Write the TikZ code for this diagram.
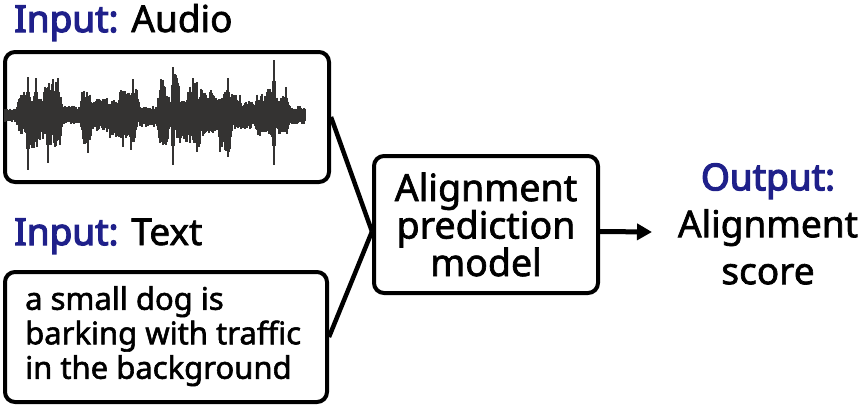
\documentclass[tikz,border=0pt]{standalone}
\usepackage{fontspec}
\setmainfont{Noto Sans}[FakeBold=1.8]
\newfontfamily\heavyfont{Noto Sans}[FakeBold=3.4]
\usetikzlibrary{arrows.meta,calc}
\definecolor{inblue}{RGB}{31,32,138}
\definecolor{wavegray}{RGB}{52,51,50}
\newcommand{\inlbl}[1]{\textcolor{inblue}{\heavyfont #1}}
\tikzset{
  box/.style={draw=black, line width=4pt, rounded corners=10pt, inner sep=0pt, fill=white},
  conn/.style={line width=4.5pt},
  bigtext/.style={font=\fontsize{37}{37}\selectfont},
  declare function={
    tri(\t,\c,\a)=max(0,\a*(1-abs(\t-\c)/2.6));
    trap(\t,\a,\b,\h)=\h*max(0,min(1,(\t-\a)/4+1,(\b-\t)/4+1));
  }
}
\begin{document}
\begin{tikzpicture}[x=1pt,y=-1pt]
\useasboundingbox (0,0) rectangle (863,418);
% labels
\node[anchor=base west, inner sep=0pt, bigtext] (inaudio) at (14,32) {\inlbl{Input:} Audio};
\node[anchor=base west, inner sep=0pt, bigtext] (intext) at (14,245) {\inlbl{Input:} Text};
% audio box
\node[box, minimum width=324pt, minimum height=130pt, anchor=north west] (audiobox) at (3,50) {};
\begin{scope}
\pgfmathsetseed{5}
\foreach \x in {5,...,305}{
  \pgfmathsetmacro\bu{max(6,trap(\x,19,21,17),trap(\x,22,27,22),trap(\x,30,34,18),trap(\x,38,43,15),trap(\x,45,50,28),trap(\x,51,53,32),trap(\x,54,56,28),trap(\x,59,61,18),trap(\x,63,80,8),trap(\x,84,90,22),trap(\x,93,107,15),trap(\x,110,117,13),trap(\x,120,127,23),trap(\x,128,131,25),trap(\x,134,137,25),trap(\x,140,157,8),trap(\x,160,164,32),trap(\x,165,170,18),trap(\x,175,178,35),trap(\x,180,187,13),trap(\x,189,197,28),trap(\x,200,213,23),trap(\x,216,223,15),trap(\x,225,227,25),trap(\x,230,240,18),trap(\x,243,253,12),trap(\x,257,263,18),trap(\x,266,272,25),trap(\x,277,281,15),trap(\x,283,287,20),trap(\x,290,304,8))}
  \pgfmathsetmacro\su{max(0,tri(\x,28,38),tri(\x,36,37),tri(\x,58,37),tri(\x,82,23),tri(\x,133,36),tri(\x,161,36),tri(\x,173,48),tri(\x,193,37),tri(\x,228,37),tri(\x,274,55),tri(\x,286,28))}
  \pgfmathsetmacro\bd{max(6,trap(\x,19,27,18),trap(\x,30,37,28),trap(\x,40,45,22),trap(\x,50,60,28),trap(\x,63,80,8),trap(\x,83,90,25),trap(\x,93,107,15),trap(\x,110,127,20),trap(\x,128,135,24),trap(\x,140,157,10),trap(\x,160,167,28),trap(\x,177,187,25),trap(\x,190,200,28),trap(\x,203,217,18),trap(\x,220,230,32),trap(\x,233,253,12),trap(\x,257,267,18),trap(\x,270,272,22),trap(\x,277,287,18),trap(\x,290,304,8))}
  \pgfmathsetmacro\sd{max(0,tri(\x,28,55),tri(\x,48,48),tri(\x,88,38),tri(\x,123,32),tri(\x,131,35),tri(\x,173,50),tri(\x,197,37),tri(\x,228,42),tri(\x,274,50))}
  \pgfmathsetmacro\up{max(1.15*\bu*(0.62+0.4*rnd),\su)}
  \pgfmathsetmacro\dn{max(1.15*\bd*(0.62+0.4*rnd),\sd)}
  \draw[wavegray, line width=1.5pt] (\x,115-\up) -- (\x,115+\dn);
}
\end{scope}
% text box
\node[box, minimum width=322pt, minimum height=130pt, anchor=north west] (textbox) at (3,270) {};
\node[anchor=north west, inner sep=0pt, align=left, font=\fontsize{31}{34.5}\selectfont] (caption) at (25,286) {a small dog is\\barking with traffic\\in the background};
% model
\node[box, minimum width=224pt, minimum height=137pt, align=center, font=\fontsize{37.5}{37.5}\selectfont] (model) at (486,224.5) {Alignment\\prediction\\model};
\coordinate (join) at ($(model.west)+(0,7)$);
\coordinate (tip) at (652,232);
\draw[conn] (audiobox.east) -- (join);
\draw[conn] (textbox.east) -- (join);
\draw[line width=5pt, -{Triangle[length=15pt,width=16pt]}] (model.east |- join) -- (tip);
% output
\node[align=center, inner sep=0pt, font=\fontsize{37}{47}\selectfont] (output) at (768,224) {\inlbl{Output:}\\Alignment\\score};
\end{tikzpicture}
\end{document}
